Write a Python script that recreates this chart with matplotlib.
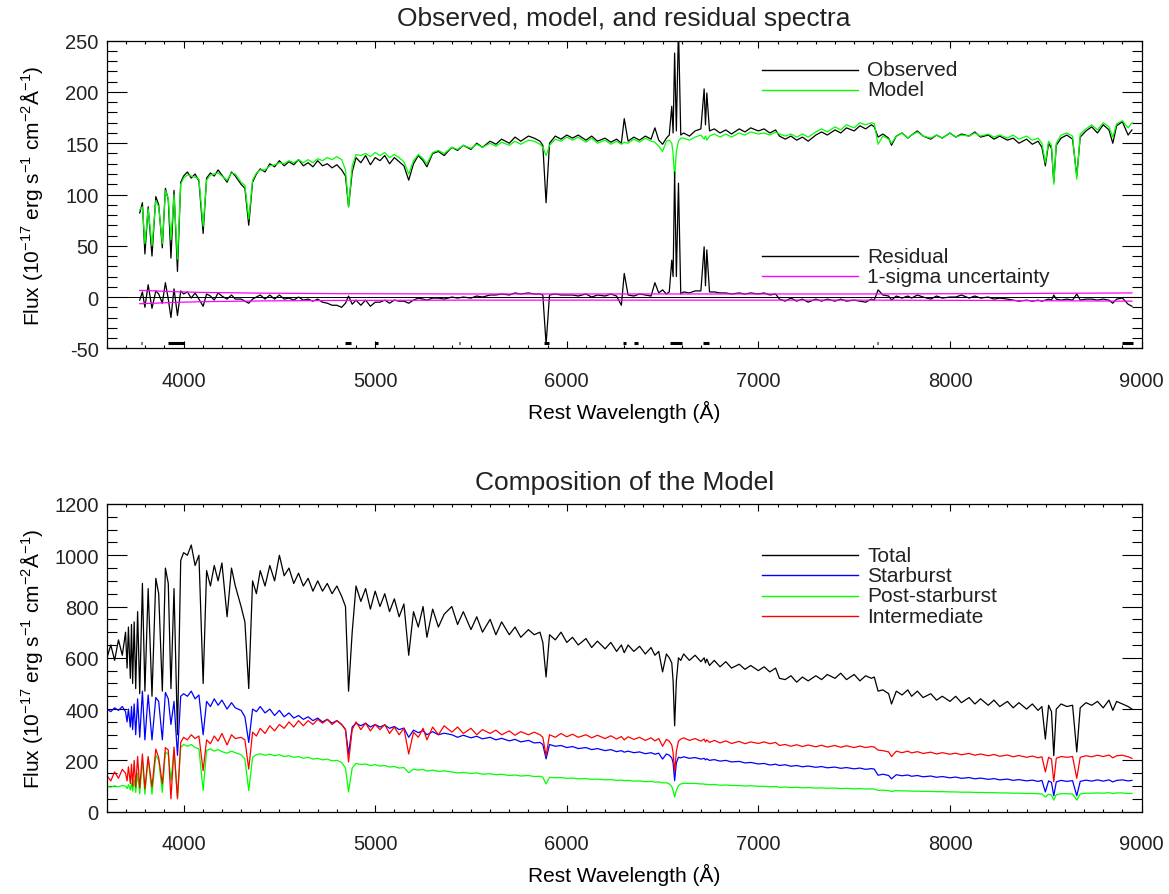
import numpy as np
import matplotlib
matplotlib.use('Agg')
import matplotlib.pyplot as plt
from matplotlib.ticker import MultipleLocator

plt.rcParams['font.family'] = ['Liberation Sans', 'DejaVu Sans']
plt.rcParams['mathtext.fontset'] = 'custom'
plt.rcParams['mathtext.rm'] = 'Liberation Sans'
plt.rcParams['mathtext.it'] = 'Liberation Sans'
plt.rcParams['text.color'] = '#222222'
plt.rcParams['axes.unicode_minus'] = False

nan = np.nan

# rest wavelength grid (A), denser at the lines
wave = [3600, 3620, 3640, 3660, 3680, 3697, 3705, 3712, 3722, 3728,
        3734, 3742, 3750, 3760, 3771, 3785, 3798, 3815, 3835, 3855,
        3870, 3889, 3905, 3920, 3934, 3950, 3968, 3985, 4000,
        4020, 4040, 4060, 4080, 4102, 4120, 4140, 4160, 4180, 4200,
        4227, 4250, 4270, 4300, 4320, 4340, 4360, 4380, 4400, 4425,
        4450, 4475, 4500, 4525, 4550, 4575, 4600, 4625, 4650, 4675,
        4700, 4725, 4750, 4775, 4800, 4825, 4845, 4861, 4880, 4900,
        4925, 4950, 4975, 5000,
        5025, 5050, 5075, 5100, 5125, 5150, 5175, 5200, 5225, 5250,
        5270, 5300, 5330, 5360, 5400, 5430, 5460, 5500, 5530, 5560,
        5600, 5630, 5660, 5700, 5730, 5760, 5800, 5830, 5860, 5875,
        5892, 5910, 5940, 5970, 6000,
        6030, 6060, 6100, 6130, 6160, 6200, 6230, 6260, 6285, 6300,
        6320, 6350, 6380, 6410, 6440, 6460, 6480, 6500, 6520, 6535,
        6548, 6555, 6563, 6572, 6583, 6595, 6610, 6640, 6670, 6700,
        6717, 6724, 6731, 6745, 6770, 6800, 6830, 6860, 6900, 6930,
        6960, 7000,
        7030, 7060, 7090, 7110, 7140, 7170, 7200, 7230, 7260, 7300,
        7330, 7360, 7400, 7430, 7460, 7500, 7530, 7560, 7590, 7605,
        7625, 7650, 7680, 7695, 7720, 7750, 7780, 7800, 7830, 7860,
        7900, 7930, 7960, 8000,
        8030, 8060, 8100, 8130, 8160, 8200, 8230, 8260, 8300, 8330,
        8360, 8400, 8430, 8460, 8480, 8498, 8515, 8530, 8542, 8555,
        8580, 8610, 8640, 8662, 8680, 8710, 8740, 8770, 8800, 8830,
        8850, 8870, 8900, 8930, 8950]

# top panel
observed = [nan, nan, nan, nan, nan, nan, nan, nan, nan, nan,
            nan, nan, nan, nan, 82, 92, 42, 88, 40, 98,
            90, 48, 106, 95, 38, 104, 25, 112, 118,
            122, 116, 120, 113, 62, 116, 121, 118, 124, 119,
            112, 122, 118, 110, 106, 70, 112, 120, 125, 122,
            130, 127, 133, 128, 132, 129, 134, 128, 131, 127,
            133, 128, 130, 126, 129, 124, 118, 88, 122, 136,
            131, 138, 129, 136,
            133, 138, 130, 136, 132, 128, 114, 130, 138, 133,
            127, 140, 142, 138, 146, 143, 148, 144, 150, 146,
            152, 149, 154, 150, 156, 152, 157, 155, 152, 148,
            92, 150, 157, 154, 158,
            155, 158, 153, 157, 152, 155, 151, 154, 150, 174,
            152, 156, 153, 157, 154, 165, 153, 149, 155, 158,
            186, 160, 238, 162, 263, 158, 160, 157, 162, 164,
            203, 168, 199, 162, 164, 160, 163, 159, 164, 161,
            165, 162,
            164, 160, 163, 157, 154, 157, 153, 156, 152, 158,
            161, 158, 163, 160, 165, 162, 167, 164, 168, 166,
            156, 159, 155, 148, 157, 160, 155, 158, 162, 157,
            154, 158, 155, 160,
            156, 159, 157, 161, 156, 158, 154, 157, 153, 155,
            150, 154, 149, 152, 146, 128, 150, 145, 112, 148,
            155, 158, 154, 118, 156, 162, 166, 160, 168, 163,
            150, 167, 171, 158, 163]

model = [nan, nan, nan, nan, nan, nan, nan, nan, nan, nan,
         nan, nan, nan, nan, 85, 88, 52, 86, 50, 94,
         88, 52, 104, 96, 56, 100, 37, 110, 116,
         119, 118, 117, 115, 69, 114, 119, 120, 121, 118,
         114, 121, 120, 112, 109, 76, 114, 121, 124, 124,
         128, 129, 131, 130, 133, 131, 134, 131, 134, 131,
         135, 133, 136, 134, 137, 134, 124, 88, 128, 139,
         138, 140, 137, 141,
         138, 141, 136, 139, 136, 132, 120, 133, 139, 135,
         130, 141, 143, 140, 146, 144, 148, 145, 149, 146,
         150, 147, 151, 148, 152, 149, 153, 152, 149, 146,
         138, 148, 154, 152, 156,
         153, 156, 151, 155, 150, 153, 149, 152, 149, 151,
         150, 154, 151, 155, 152, 151, 147, 142, 152, 153,
         150, 140, 116, 142, 152, 155, 155, 153, 156, 158,
         154, 157, 153, 157, 159, 156, 159, 156, 160, 158,
         161, 159,
         160, 158, 161, 159, 157, 159, 156, 159, 156, 161,
         164, 161, 166, 163, 168, 165, 170, 168, 170, 169,
         149, 157, 154, 150, 157, 160, 155, 158, 161, 157,
         155, 158, 155, 160,
         156, 158, 157, 160, 157, 159, 156, 158, 155, 158,
         154, 157, 153, 155, 150, 131, 152, 148, 110, 150,
         158, 160, 157, 115, 159, 164, 168, 163, 170, 166,
         156, 169, 172, 165, 170]

residual = [nan, nan, nan, nan, nan, nan, nan, nan, nan, nan,
            nan, nan, nan, nan, -3, 5, -10, 12, -11, 6,
            3, -6, 14, -2, -20, 8, -18, 6, 3,
            5, -1, 4, -2, -9, 3, 1, -3, 4, 1,
            -2, 2, -2, -2, -4, -6, -2, 0, 2, -2,
            2, -2, 2, -2, -1, -3, 0, -3, -2, -4,
            -2, -5, -6, -8, -8, -10, -6, 1, -7, -3,
            -8, -3, -9, -5,
            -5, -3, -6, -3, -4, -4, -6, -3, -1, -2,
            -3, -1, -1, -2, 0, -1, 0, -1, 1, 0,
            2, 2, 3, 2, 4, 3, 4, 3, 3, 2,
            -46, 2, 3, 2, 2,
            2, 1, 3, 0, 2, 1, 3, 1, -8, 23,
            2, 1, 3, 2, 1, 14, 4, 7, 3, 5,
            36, 20, 122, 20, 111, 3, 5, 4, 6, 6,
            49, 11, 46, 5, 5, 4, 4, 3, 4, 3,
            4, 3,
            4, 2, 3, -2, -4, -1, -4, -2, -5, -2,
            -4, -2, -4, -2, -4, -3, -4, -5, -2, -3,
            7, 2, 1, -3, 1, -1, 1, -1, 2, 0,
            -2, 1, -1, 0,
            0, 2, -1, 1, -1, 0, -2, -1, -2, -3,
            -4, -3, -4, -3, -4, -3, -2, -3, 2, -2,
            -3, -2, -3, 3, -3, -2, -2, -3, -2, -3,
            -6, -2, -1, -7, -9]

sigma_wave = [3771, 3850, 3950, 4100, 4400, 4800, 5500, 6500, 7500, 8200, 8600, 8950]
sigma = [6.5, 6.0, 5.2, 4.5, 3.8, 3.3, 3.0, 3.0, 3.0, 3.3, 3.7, 4.0]

# masked pixel ranges (drawn near the bottom of the top panel)
mask_lo = [3779, 3920, 4558, 4845, 4998, 5438, 5880, 6292, 6350, 6540, 6712, 7618, 8900]
mask_hi = [3784, 4002, 4563, 4872, 5015, 5443, 5905, 6310, 6372, 6600, 6740, 7625, 8955]

# bottom panel
total = [600, 650, 590, 670, 610, 700, 560, 720, 520, 730,
         500, 740, 480, 780, 460, 890, 470, 870, 450, 910,
         850, 470, 950, 890, 480, 870, 300, 980, 1010,
         1000, 1040, 960, 1000, 500, 940, 880, 960, 900, 970,
         760, 950, 880, 800, 740, 480, 900, 850, 940, 880,
         960, 900, 1000, 920, 950, 890, 930, 880, 910, 860,
         900, 860, 890, 850, 880, 840, 800, 470, 700, 880,
         820, 870, 790, 860,
         800, 850, 780, 830, 760, 810, 610, 780, 720, 800,
         680, 790, 720, 770, 800, 730, 780, 710, 760, 700,
         750, 690, 740, 690, 720, 680, 710, 690, 700, 660,
         525, 690, 670, 700, 660,
         680, 650, 675, 640, 665, 635, 660, 625, 650, 620,
         650, 625, 645, 615, 640, 610, 625, 545, 615, 600,
         580, 510, 335, 510, 600, 590, 615, 590, 610, 585,
         600, 580, 595, 570, 590, 565, 585, 560, 575, 555,
         570, 550,
         565, 545, 560, 520, 515, 530, 505, 525, 510, 530,
         515, 535, 520, 540, 515, 535, 510, 530, 520, 525,
         470, 475, 460, 420, 470, 455, 475, 450, 470, 445,
         460, 435, 450, 430,
         450, 425, 445, 420, 440, 415, 435, 410, 430, 405,
         425, 400, 420, 395, 410, 283, 415, 390, 218, 400,
         420, 410, 415, 233, 405, 425, 415, 430, 405, 435,
         395, 430, 420, 410, 400]

starburst = [400, 390, 405, 395, 410, 390, 350, 400, 330, 410,
             320, 420, 300, 440, 290, 470, 280, 455, 280, 445,
             430, 280, 465, 440, 340, 430, 220, 450, 460,
             450, 470, 440, 455, 300, 430, 410, 440, 415, 435,
             400, 425, 405, 395, 370, 270, 400, 390, 410, 385,
             400, 375, 395, 370, 385, 365, 375, 360, 370, 355,
             365, 350, 360, 345, 355, 340, 320, 225, 330, 345,
             335, 345, 330, 340,
             330, 338, 325, 332, 320, 326, 290, 318, 308, 316,
             300, 312, 300, 306, 300, 290, 298, 288, 294, 284,
             290, 280, 286, 276, 282, 272, 278, 268, 270, 262,
             206, 262, 255, 258, 250,
             254, 246, 250, 242, 246, 238, 242, 234, 238, 232,
             236, 230, 233, 226, 230, 224, 228, 205, 225, 220,
             210, 190, 121, 190, 212, 210, 214, 208, 211, 205,
             208, 202, 206, 200, 203, 197, 200, 194, 196, 190,
             192, 186,
             188, 182, 185, 180, 183, 177, 180, 175, 178, 173,
             176, 171, 174, 169, 172, 167, 170, 165, 168, 166,
             142, 146, 141, 128, 144, 140, 143, 138, 141, 136,
             139, 134, 137, 132,
             135, 130, 133, 128, 131, 126, 129, 124, 127, 122,
             125, 120, 123, 118, 122, 77, 120, 114, 62, 116,
             122, 118, 121, 62, 118, 123, 119, 124, 119, 124,
             116, 122, 124, 120, 122]

post_starburst = [98, 96, 100, 97, 102, 100, 90, 105, 85, 112,
                  80, 125, 75, 150, 70, 200, 68, 210, 68, 220,
                  200, 75, 232, 225, 120, 240, 57, 250, 262,
                  255, 262, 250, 245, 82, 238, 245, 236, 242, 234,
                  228, 236, 230, 222, 205, 82, 212, 222, 226, 220,
                  224, 218, 222, 215, 218, 212, 215, 208, 212, 205,
                  208, 202, 205, 198, 200, 192, 170, 77, 170, 188,
                  184, 186, 180, 183,
                  178, 180, 174, 176, 170, 172, 152, 166, 162, 165,
                  158, 162, 157, 159, 155, 151, 153, 149, 151, 146,
                  148, 144, 146, 141, 143, 139, 141, 137, 138, 134,
                  108, 134, 132, 133, 130,
                  131, 128, 129, 126, 127, 124, 125, 122, 123, 121,
                  122, 119, 120, 117, 118, 115, 116, 112, 113, 108,
                  98, 82, 57, 82, 102, 108, 111, 110, 110, 108,
                  108, 106, 107, 105, 106, 103, 104, 102, 102, 100,
                  101, 99,
                  99, 97, 98, 95, 96, 94, 95, 93, 94, 92,
                  93, 91, 92, 90, 91, 89, 90, 88, 89, 88,
                  83, 84, 82, 79, 82, 81, 81, 80, 80, 79,
                  79, 78, 78, 77,
                  77, 76, 76, 75, 75, 74, 74, 73, 73, 72,
                  72, 71, 71, 70, 69, 57, 68, 65, 45, 66,
                  70, 70, 69, 45, 69, 72, 72, 73, 72, 74,
                  71, 73, 73, 71, 71]

intermediate = [140, 120, 155, 130, 165, 150, 120, 175, 110, 185,
                100, 200, 96, 215, 92, 225, 89, 215, 96, 244,
                210, 108, 250, 240, 50, 252, 50, 270, 290,
                280, 300, 285, 295, 160, 280, 265, 295, 275, 305,
                260, 300, 285, 290, 280, 166, 310, 295, 325, 305,
                335, 315, 340, 325, 350, 330, 355, 335, 355, 340,
                360, 345, 360, 340, 355, 340, 320, 194, 320, 350,
                320, 345, 315, 340,
                320, 340, 305, 330, 300, 325, 225, 310, 290, 325,
                280, 330, 300, 335, 310, 330, 305, 325, 300, 320,
                305, 318, 300, 315, 298, 312, 300, 310, 300, 290,
                218, 300, 290, 305, 292,
                302, 290, 300, 288, 298, 285, 296, 283, 293, 280,
                292, 282, 290, 278, 288, 276, 285, 255, 282, 275,
                260, 230, 155, 235, 275, 283, 288, 278, 285, 275,
                283, 272, 280, 270, 278, 268, 276, 266, 274, 265,
                272, 266,
                272, 265, 270, 258, 262, 255, 261, 254, 260, 253,
                259, 252, 258, 251, 257, 250, 256, 250, 254, 252,
                240, 238, 233, 215, 236, 230, 236, 229, 234, 227,
                232, 225, 230, 224,
                228, 222, 227, 220, 225, 218, 223, 216, 221, 214,
                219, 212, 217, 210, 214, 155, 212, 205, 117, 208,
                215, 212, 215, 130, 212, 218, 214, 220, 215, 221,
                210, 218, 220, 214, 208]

GREEN = '#00ff00'
BLUE = '#0000ff'
RED = '#ff0000'
MAGENTA = '#ff00ff'

ylab = 'Flux (10$^{-17}$ erg s$^{-1}$ cm$^{-2}$Å$^{-1}$)'


def style(ax, ylo, yhi, ymaj, ymin):
    ax.set_xlim(3600, 9000)
    ax.set_ylim(ylo, yhi)
    ax.xaxis.set_major_locator(MultipleLocator(1000))
    ax.xaxis.set_minor_locator(MultipleLocator(100))
    ax.yaxis.set_major_locator(MultipleLocator(ymaj))
    ax.yaxis.set_minor_locator(MultipleLocator(ymin))
    ax.tick_params(which='both', direction='in', top=True, right=True,
                   width=0.8, labelsize=14.5, labelcolor='#222222')
    ax.tick_params(axis='x', which='major', length=5, pad=16)
    ax.tick_params(axis='x', which='minor', length=2.5)
    ax.tick_params(axis='y', which='major', length=14.5, pad=6)
    ax.tick_params(axis='y', which='minor', length=7)
    for s in ax.spines.values():
        s.set_linewidth(0.9)
    ax.set_xlabel('Rest Wavelength (Å)', fontsize=15)
    ax.xaxis.set_label_coords(0.5, -0.168)
    ax.set_ylabel(ylab, fontsize=15)
    ax.yaxis.set_label_coords(-0.060, 0.5)


def key(ax, yfrac, label, color):
    ax.plot([0.633, 0.7255], [yfrac, yfrac], color=color, lw=1.0,
            transform=ax.transAxes)
    ax.text(0.735, yfrac, label, transform=ax.transAxes, fontsize=15,
            va='center', ha='left')


fig = plt.figure(figsize=(11.69, 8.95), dpi=100)

ax1 = fig.add_axes([0.0915, 0.6097, 0.885, 0.3437])
ax1.plot(wave, observed, color='black', lw=0.9)
ax1.plot(wave, model, color=GREEN, lw=0.9)
ax1.axhline(0, color='black', lw=0.7)
ax1.plot(wave, residual, color='black', lw=0.9)
ax1.plot(sigma_wave, sigma, color=MAGENTA, lw=0.9)
ax1.plot(sigma_wave, [-s for s in sigma], color=MAGENTA, lw=0.9)
ax1.hlines([-45] * len(mask_lo), mask_lo, mask_hi, color='black', lw=2.2)
style(ax1, -50, 250, 50, 10)
ax1.set_title('Observed, model, and residual spectra', fontsize=19, pad=11)
key(ax1, 0.905, 'Observed', 'black')
key(ax1, 0.840, 'Model', GREEN)
key(ax1, 0.299, 'Residual', 'black')
key(ax1, 0.235, '1-sigma uncertainty', MAGENTA)

ax2 = fig.add_axes([0.0915, 0.0920, 0.885, 0.3438])
ax2.plot(wave, total, color='black', lw=0.9)
ax2.plot(wave, starburst, color=BLUE, lw=0.9)
ax2.plot(wave, post_starburst, color=GREEN, lw=0.9)
ax2.plot(wave, intermediate, color=RED, lw=0.9)
style(ax2, 0, 1200, 200, 50)
ax2.set_title('Composition of the Model', fontsize=19, pad=11)
key(ax2, 0.834, 'Total', 'black')
key(ax2, 0.768, 'Starburst', BLUE)
key(ax2, 0.702, 'Post-starburst', GREEN)
key(ax2, 0.635, 'Intermediate', RED)

fig.savefig('out.png', dpi=100)
